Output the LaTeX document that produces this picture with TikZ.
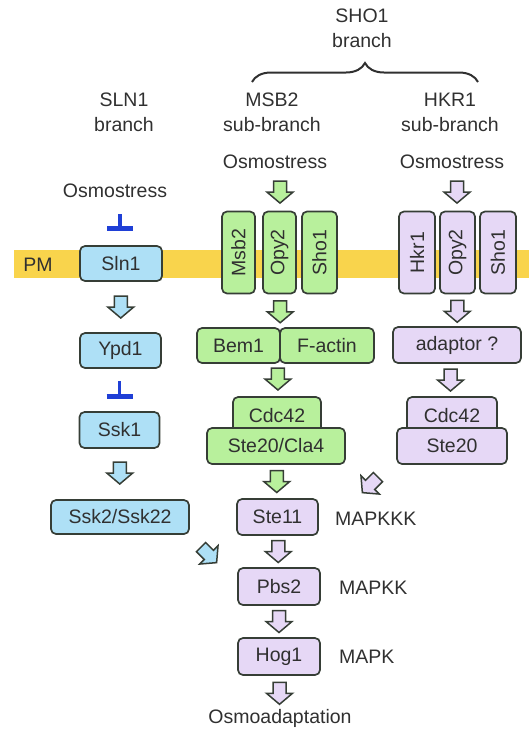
\documentclass[tikz,border=0pt]{standalone}
\usepackage{fontspec}
\setmainfont{Liberation Sans}
\usetikzlibrary{calc,decorations.pathreplacing}
\definecolor{cblue}{HTML}{AEE0F6}
\definecolor{cgreen}{HTML}{B8F09C}
\definecolor{cpurple}{HTML}{E6D8F6}
\definecolor{cyellow}{HTML}{F9D44C}
\definecolor{edge}{HTML}{363E36}
\definecolor{txt}{HTML}{303030}
\definecolor{tblue}{HTML}{1F3FD6}
\tikzset{
  lbl/.style={font=\fontsize{19.5}{25}\selectfont, text=txt, align=center, inner sep=0pt},
  box/.style={draw=edge, line width=1.7pt, rounded corners=5pt, inner sep=0pt,
     font=\fontsize{19.5}{22}\selectfont, text=txt, fill=#1},
  vbox/.style={box=#1, minimum width=82pt, rotate=90},
  tstem/.style={draw=tblue, line width=3.5pt},
  tbar/.style={draw=tblue, line width=5pt},
  pics/barrow/.style={code={
    \draw[draw=edge, line width=1.5pt, line join=miter, fill=#1]
      (-6.5pt,11pt) -- (6.5pt,11pt) -- (6.5pt,0pt) -- (13pt,0pt) -- (0pt,-11pt)
      -- (-13pt,0pt) -- (-6.5pt,0pt) -- cycle;}}
}
\begin{document}
\begin{tikzpicture}[x=1pt,y=-1pt]
\useasboundingbox (0,0) rectangle (529,729);
% plasma membrane
\fill[cyellow] (14,250) rectangle (529,278);
\node[lbl] (pm) at (38,265) {PM};

% headings
\node[lbl] (sho) at (362,28) {SHO1\\branch};
\coordinate (brl) at (252,82);
\coordinate (brr) at (478,82);
\draw[txt, line width=2pt, decorate, decoration={brace, amplitude=19pt}] (brl) -- (brr);
\node[lbl] (slnh) at (124,112) {SLN1\\branch};
\node[lbl] (msbh) at (272,112) {MSB2\\sub-branch};
\node[lbl] (hkrh) at (450,112) {HKR1\\sub-branch};
\node[lbl] (osmo1) at (275,162) {Osmostress};
\node[lbl] (osmo2) at (452,162) {Osmostress};
\node[lbl] (osmo0) at (115,191) {Osmostress};

% SLN1 branch
\node[box=cblue, minimum width=82pt, minimum height=35pt] (sln1) at (121,263.5) {Sln1};
\node[box=cblue, minimum width=81pt, minimum height=35pt] (ypd1) at (120.5,350.5) {Ypd1};
\node[box=cblue, minimum width=80pt, minimum height=36pt] (ssk1) at (119.5,430) {Ssk1};
\node[box=cblue, minimum width=138pt, minimum height=34pt] (ssk2) at (120,517) {Ssk2/Ssk22};

% MSB2 sub-branch
\node[vbox=cgreen, minimum height=33pt] (msb2) at (238.5,252.5) {Msb2};
\node[vbox=cgreen, minimum height=33pt] (opy2a) at (279.5,252.5) {Opy2};
\node[vbox=cgreen, minimum height=35pt] (sho1a) at (319.5,252.5) {Sho1};
\node[box=cgreen, minimum width=83pt, minimum height=35pt] (bem1) at (238.5,345.5) {Bem1};
\node[box=cgreen, minimum width=94pt, minimum height=35pt] (factin) at (327,345.5) {F-actin};
\node[box=cgreen, minimum width=88pt, minimum height=38pt] (cdc42a) at (277,416) {Cdc42};
\node[box=cgreen, minimum width=138pt, minimum height=36pt] (ste20a) at (276,446) {Ste20/Cla4};

% HKR1 sub-branch
\node[vbox=cpurple, minimum height=36pt] (hkr1) at (417,252.5) {Hkr1};
\node[vbox=cpurple, minimum height=35pt] (opy2b) at (457.5,252.5) {Opy2};
\node[vbox=cpurple, minimum height=36pt] (sho1b) at (498,252.5) {Sho1};
\node[box=cpurple, minimum width=128pt, minimum height=36pt] (adapt) at (457,345) {adaptor ?};
\node[box=cpurple, minimum width=90pt, minimum height=38pt] (cdc42b) at (452,416) {Cdc42};
\node[box=cpurple, minimum width=110pt, minimum height=36pt] (ste20b) at (452,446) {Ste20};

% MAPK cascade
\node[box=cpurple, minimum width=81pt, minimum height=36pt] (ste11) at (277.5,517) {Ste11};
\node[box=cpurple, minimum width=82pt, minimum height=37pt] (pbs2) at (279,586.5) {Pbs2};
\node[box=cpurple, minimum width=82pt, minimum height=37pt] (hog1) at (279,656.5) {Hog1};
\node[lbl, anchor=west] (mkkk) at (335,519) {MAPKKK};
\node[lbl, anchor=west] (mkk) at (339,588) {MAPKK};
\node[lbl, anchor=west] (mk) at (339,657) {MAPK};
\node[lbl] (osad) at (280,718) {Osmoadaptation};

% inhibition bars
\draw[tstem] ($(sln1.north)+(-1,-31)$) -- ($(sln1.north)+(-1,-17)$);
\draw[tbar] ($(sln1.north)+(-14,-17)$) -- ($(sln1.north)+(12,-17)$);
\draw[tstem] ($(ssk1.north)+(0,-30)$) -- ($(ssk1.north)+(0,-15)$);
\draw[tbar] ($(ssk1.north)+(-13,-15)$) -- ($(ssk1.north)+(13,-15)$);

% block arrows
\pic at ($(sln1.south)!0.5!(ypd1.north)$) {barrow=cblue};
\pic at ($(ssk1.south)!0.5!(ssk2.north)+(0,-1)$) {barrow=cblue};
\pic[rotate=45] at ($(ssk2.south east)+(19,20)$) {barrow=cblue};

\pic at ($(osmo1.south)+(5,23)$) {barrow=cgreen};
\pic at ($(opy2a.west)!0.5!(bem1.north east)+(0,1)$) {barrow=cgreen};
\pic at ($(bem1.south east)!0.5!(cdc42a.north)+(-1,-1)$) {barrow=cgreen};
\pic at ($(ste20a.south)!0.5!(ste11.north)$) {barrow=cgreen};

\pic at ($(osmo2.south)+(5,23)$) {barrow=cpurple};
\pic at ($(opy2b.west)!0.5!(adapt.north)+(0,1)$) {barrow=cpurple};
\pic at ($(adapt.south)!0.5!(cdc42b.north)+(-4,0)$) {barrow=cpurple};
\pic[rotate=-45] at ($(ste20b.south west)+(-26,20)$) {barrow=cpurple};
\pic at ($(ste11.south)!0.5!(pbs2.north)$) {barrow=cpurple};
\pic at ($(pbs2.south)!0.5!(hog1.north)$) {barrow=cpurple};
\pic at ($(hog1.south)!0.5!(osad.north)+(0,1)$) {barrow=cpurple};
\end{tikzpicture}
\end{document}
